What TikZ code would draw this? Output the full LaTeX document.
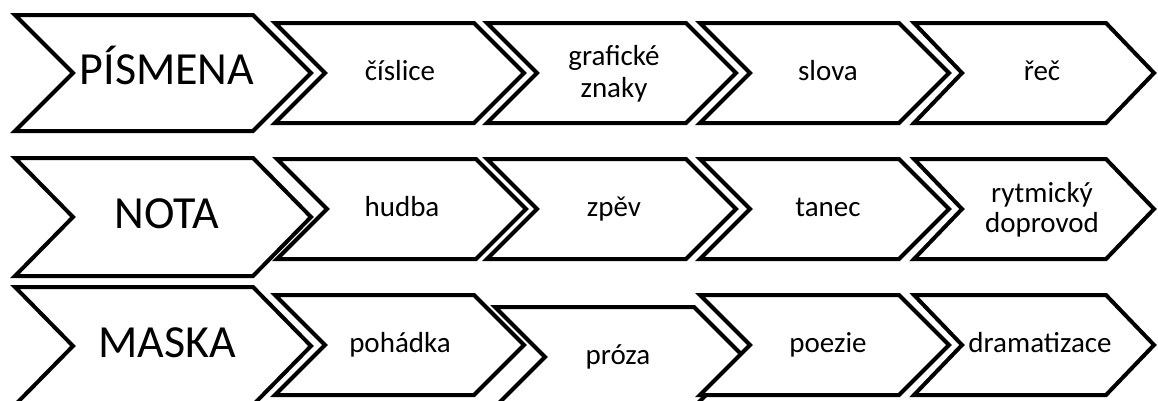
\documentclass[tikz,border=0pt]{standalone}
\usepackage{fontspec}
\setmainfont{Carlito}
\begin{document}
\begin{tikzpicture}[x=1pt,y=-1pt,
  chev/.style={draw=black,fill=white,line width=4pt,line join=miter},
  bigtxt/.style={anchor=base,inner sep=0pt,font=\fontsize{46}{52}\selectfont},
  smalltxt/.style={anchor=base,inner sep=0pt,font=\fontsize{29}{34}\selectfont}]
\clip (0,0) rectangle (1158,400);
\fill[white] (0,0) rectangle (1158,400);
% #1 left x, #2 top y, #3 top-right x, #4 bottom y, #5 depth
\newcommand\chevshape[5]{%
  \draw[chev] (#1,#2) -- (#3,#2) -- ({#3+#5},{(#2+#4)/2}) -- (#3,#4) -- (#1,#4) -- ({#1+#5},{(#2+#4)/2}) -- cycle;}
% row 1
\chevshape{15}{15}{253}{131}{58}
\chevshape{275}{23}{474}{123}{50}
\chevshape{487}{23}{686}{123}{50}
\chevshape{700}{23}{899}{123}{50}
\chevshape{914}{23}{1106}{123}{48}
\node[bigtxt] (pismena) at (167,84) {PÍSMENA};
\node[smalltxt] (cislice) at (400,80) {číslice};
\node[smalltxt] (graf1) at (614,65) {grafické};
\node[smalltxt] (graf2) at (614,97) {znaky};
\node[smalltxt] (slova) at (828,80) {slova};
\node[smalltxt] (rec) at (1042,80) {řeč};
% row 2
\chevshape{15}{158}{253}{276}{58}
\chevshape{277}{159}{476}{259}{50}
\chevshape{487}{159}{686}{259}{50}
\chevshape{700}{159}{899}{259}{50}
\chevshape{914}{159}{1106}{259}{48}
\node[bigtxt] (nota) at (167,228) {NOTA};
\node[smalltxt] (hudba) at (402,216) {hudba};
\node[smalltxt] (zpev) at (614,216) {zpěv};
\node[smalltxt] (tanec) at (828,216) {tanec};
\node[smalltxt] (ryt1) at (1042,202) {rytmický};
\node[smalltxt] (ryt2) at (1042,232) {doprovod};
% row 3
\chevshape{15}{287}{253}{405}{58}
\chevshape{275}{295}{474}{395}{50}
\chevshape{495}{307}{694}{407}{50}
\chevshape{700}{295}{899}{395}{50}
\chevshape{914}{295}{1106}{395}{48}
\node[bigtxt] (maska) at (167,357) {MASKA};
\node[smalltxt] (pohadka) at (400,352) {pohádka};
\node[smalltxt] (proza) at (618,364) {próza};
\node[smalltxt] (poezie) at (828,352) {poezie};
\node[smalltxt] (dram) at (1040,352) {dramatizace};
\end{tikzpicture}
\end{document}
